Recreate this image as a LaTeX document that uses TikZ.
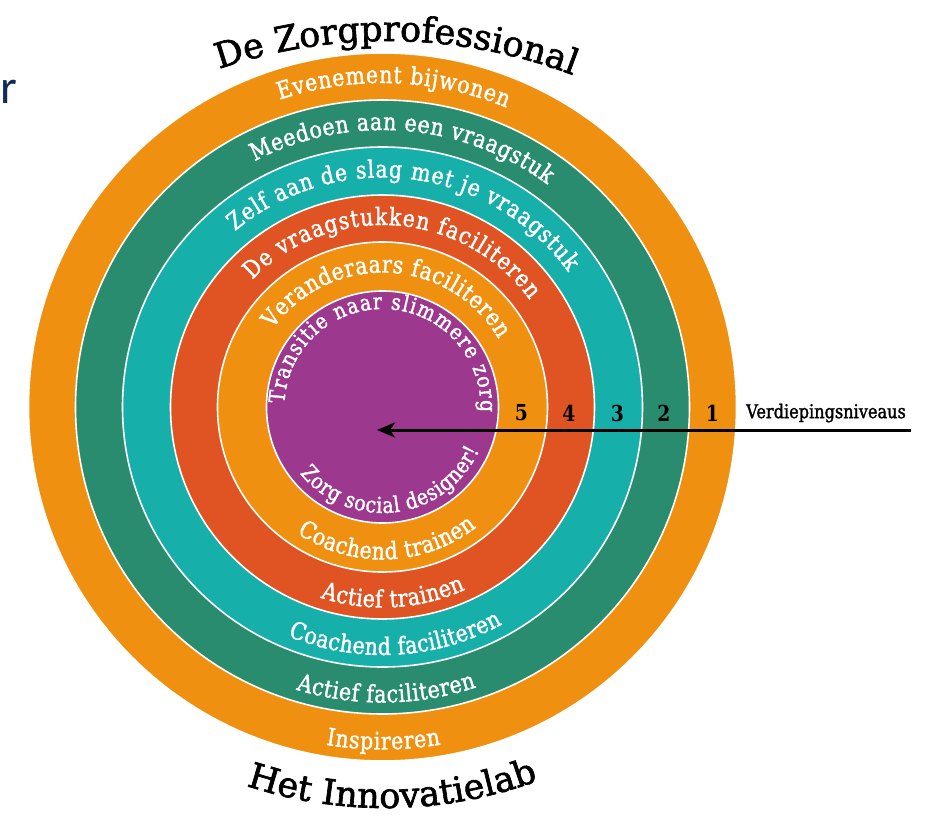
\documentclass[tikz,border=0pt]{standalone}
\usepackage{fontspec}
\setmainfont{DejaVu Serif}[FakeStretch=0.85]
\newfontfamily\ringfont{DejaVu Serif}[FakeStretch=0.85,FakeBold=1.5]
\newfontfamily\headfont{DejaVu Serif}[FakeBold=1.8]
\newfontfamily\navyfont{Carlito}
\usetikzlibrary{decorations.text,arrows.meta}
\definecolor{ringorange}{RGB}{240,144,16}
\definecolor{ringgreen}{RGB}{42,140,110}
\definecolor{ringteal}{RGB}{22,175,170}
\definecolor{ringred}{RGB}{224,84,36}
\definecolor{ringpurple}{RGB}{156,56,142}
\definecolor{navyblue}{RGB}{14,45,92}
\newcommand\ringsize{\ringfont\fontsize{24}{28}\selectfont}
\newcommand\innersize{\ringfont\fontsize{22}{26}\selectfont}
\newcommand\titlesize{\headfont\fontsize{35}{40}\selectfont}
% #1 start angle, #2 end angle, #3 radius, #4 font, #5 text
\newcommand\ringtext[5]{%
  \path[decorate,decoration={text along path,text align=fit to path,text color=white,text={|#4|#5}}]
    (#1:#3) arc[start angle=#1,end angle=#2,radius=#3];}
\begin{document}
\begin{tikzpicture}[x=1pt,y=1pt,
  disc/.style={draw=white,line width=1.6pt},
  numlabel/.style={font=\bfseries\fontsize{22}{26}\selectfont,text=black,inner sep=0pt},
  levellabel/.style={font=\ringfont\fontsize{19}{22}\selectfont,text=black,inner sep=0pt,anchor=west},
  levelarrow/.style={line width=3pt,-{Stealth[length=18pt,width=15pt,inset=5pt]}}]
\useasboundingbox (-382.5,-408) rectangle (547.5,407);

% rings
\path[disc,fill=ringorange] (0,0) circle[radius=354];
\path[disc,fill=ringgreen]  (0,0) circle[radius=307];
\path[disc,fill=ringteal]   (0,0) circle[radius=260];
\path[disc,fill=ringred]    (0,0) circle[radius=212];
\path[disc,fill=ringorange] (0,0) circle[radius=165];
\path[disc,fill=ringpurple] (0,0) circle[radius=116];

% ring labels, top
\ringtext{108.5}{67.5}{324}{\ringsize}{Evenement bijwonen}
\ringtext{117.5}{53.5}{277}{\ringsize}{Meedoen aan een vraagstuk}
\ringtext{130}{36}{229.5}{\ringsize}{Zelf aan de slag met je vraagstuk}
\ringtext{135.7}{36}{182}{\ringsize}{De vraagstukken faciliteren}
\ringtext{144.6}{30.3}{134.5}{\ringsize}{Veranderaars faciliteren}
\ringtext{178}{-3}{98}{\innersize}{Transitie naar slimmere zorg}

% ring labels, bottom
\ringtext{260.5}{279.8}{342.5}{\ringsize}{Inspireren}
\ringtext{253}{288.5}{295.5}{\ringsize}{Actief faciliteren}
\ringtext{247.6}{298.9}{248}{\ringsize}{Coachend faciliteren}
\ringtext{252}{294.4}{200.5}{\ringsize}{Actief trainen}
\ringtext{235.9}{308}{152.5}{\ringsize}{Coachend trainen}
\ringtext{218.7}{335.8}{106}{\innersize}{Zorg social designer!}

% titles
\begin{scope}[shift={(5,-154)}]
\path[decorate,decoration={text along path,text align=center,text color=black,text={|\titlesize|De Zorgprofessional}}]
  (119:520) arc[start angle=119,end angle=59,radius=520];
\end{scope}
\begin{scope}[shift={(2.5,42)}]
\path[decorate,decoration={text along path,text align=center,text color=black,text={|\titlesize|Het Innovatielab}}]
  (241:443) arc[start angle=241,end angle=301,radius=443];
\end{scope}

% level numbers and arrow
\node[numlabel] (n5) at (139,-6) {5};
\node[numlabel] (n4) at (186.5,-6) {4};
\node[numlabel] (n3) at (235,-6) {3};
\node[numlabel] (n2) at (281.5,-6) {2};
\node[numlabel] (n1) at (330,-6) {1};
\node[levellabel] (levels) at (363.5,-6) {Verdiepingsniveaus};
\coordinate (arrowtail) at (528.5,-23);
\coordinate (arrowtip) at (-5.5,-23);
\draw[levelarrow] (arrowtail) -- (arrowtip);

% cropped letter at top left
\node[anchor=base west,inner sep=0pt,text=navyblue,font=\navyfont\fontsize{48}{52}\selectfont] (rletter) at (-382.5,303.7) {r};
\end{tikzpicture}
\end{document}
